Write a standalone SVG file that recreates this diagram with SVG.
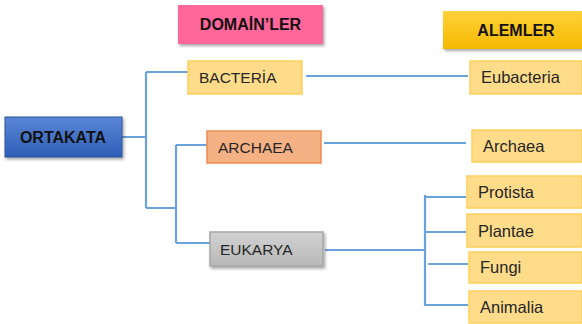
<svg xmlns="http://www.w3.org/2000/svg" width="582" height="324" viewBox="0 0 582 324">
<defs>
<filter id="sh" x="-10%" y="-20%" width="130%" height="160%">
<feDropShadow dx="1.5" dy="2" stdDeviation="1.5" flood-color="#000" flood-opacity="0.35"/>
</filter>
<linearGradient id="gBlue" x1="0" y1="0" x2="0" y2="1"><stop offset="0" stop-color="#5a86d6"/><stop offset="1" stop-color="#2f5fb8"/></linearGradient>
<linearGradient id="gGold" x1="0" y1="0" x2="0" y2="1"><stop offset="0" stop-color="#ffd23a"/><stop offset="1" stop-color="#f5b800"/></linearGradient>
<linearGradient id="gGray" x1="0" y1="0" x2="0" y2="1"><stop offset="0" stop-color="#d2d2d2"/><stop offset="1" stop-color="#b8b8b8"/></linearGradient>
</defs>
<style>
.t{font-family:"Liberation Sans",Arial,sans-serif;fill:#262626}
.b{font-weight:bold;font-size:16px;fill:#111}
.d{font-size:15.5px}
.k{font-size:16.5px}
.y{fill:#ffdc8a;stroke:#ffcf5a;stroke-width:1.5}
.c{fill:none;stroke:#6aa2dc;stroke-width:2.2}
</style>
<g id="connectors">
<path class="c" d="M122 137H146M146 72V208M146 72H188M146 208H176M176 145V243M176 145H207M176 243H210"/>
<path class="c" d="M306 76H468M324 143H466M325 250H425M425 195V306M425 197H466M425 232H466M428 264H468M425 305H468"/>
</g>
<g id="domainler">
<rect x="178" y="5" width="145" height="39" fill="#ff6699" filter="url(#sh)"/>
<text class="t b" x="250.5" y="30" text-anchor="middle">DOMAİN’LER</text>
</g>
<g id="alemler">
<rect x="443" y="11" width="142" height="38" fill="url(#gGold)" filter="url(#sh)"/>
<text class="t b" x="516" y="35.5" text-anchor="middle">ALEMLER</text>
</g>
<g id="ortakata">
<rect x="5" y="117" width="117" height="40" fill="url(#gBlue)" stroke="#2f5597" stroke-width="1" filter="url(#sh)"/>
<text class="t b" x="63" y="143" text-anchor="middle">ORTAKATA</text>
</g>
<g id="bacteria">
<rect class="y" x="188" y="61" width="114" height="33"/>
<text class="t d" x="199" y="83">BACTERİA</text>
</g>
<g id="archaea-d">
<rect x="207" y="131" width="114" height="32" fill="#f4b183" stroke="#ef8c4f" stroke-width="1.5"/>
<text class="t d" x="218" y="153">ARCHAEA</text>
</g>
<g id="eukarya">
<rect x="210" y="232" width="113" height="34" fill="url(#gGray)" stroke="#a6a6a6" stroke-width="1.5" filter="url(#sh)"/>
<text class="t d" x="220" y="255">EUKARYA</text>
</g>
<g id="eubacteria">
<rect class="y" x="470" y="61" width="112" height="33"/>
<text class="t k" x="481" y="83">Eubacteria</text>
</g>
<g id="archaea-k">
<rect class="y" x="472" y="130" width="110" height="32"/>
<text class="t k" x="483" y="152">Archaea</text>
</g>
<g id="protista">
<rect class="y" x="467" y="176" width="115" height="32"/>
<text class="t k" x="478" y="198">Protista</text>
</g>
<g id="plantae">
<rect class="y" x="467" y="214" width="115" height="33"/>
<text class="t k" x="478" y="237">Plantae</text>
</g>
<g id="fungi">
<rect class="y" x="469" y="252" width="113" height="31"/>
<text class="t k" x="480" y="273">Fungi</text>
</g>
<g id="animalia">
<rect class="y" x="469" y="291" width="113" height="32"/>
<text class="t k" x="480" y="313">Animalia</text>
</g>
</svg>
